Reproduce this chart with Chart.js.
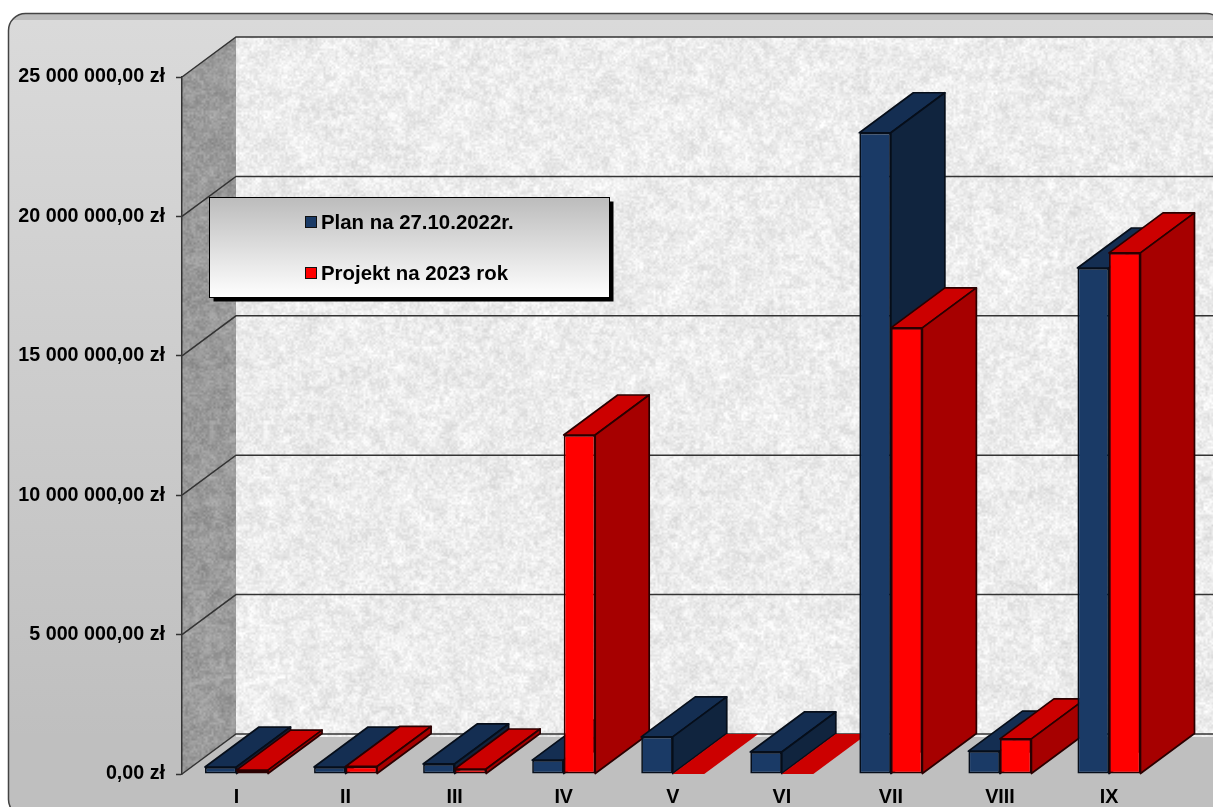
<!DOCTYPE html>
<html>
<head>
<meta charset="utf-8">
<title>Plan i projekt</title>
<script src="https://cdn.jsdelivr.net/npm/chart.js@4"></script>
<style>
    html, body { margin: 0; padding: 0; background: #fff; overflow: hidden; }
    canvas { display: block; }
</style>
</head>
<body>
<canvas id="chart" width="1213" height="807"></canvas>
<script>
const categories = ['I', 'II', 'III', 'IV', 'V', 'VI', 'VII', 'VIII', 'IX'];
const planValues = [250000, 250000, 360000, 500000, 1330000, 790000, 23000000, 820000, 18150000];
const projektValues = [140000, 270000, 180000, 12160000, 0, 0, 16000000, 1260000, 18690000];
const yTicks = ['0,00 zł', '5 000 000,00 zł', '10 000 000,00 zł', '15 000 000,00 zł', '20 000 000,00 zł', '25 000 000,00 zł'];
const seriesNames = ['Plan na 27.10.2022r.', 'Projekt na 2023 rok'];

const DX = 54, DY = 40;
const tickFont = { family: '"Liberation Sans"', size: 19.7, weight: 'bold' };

// mottled stone texture for the walls, hash noise so it stays the same every run
function hash(x, y) {
    const s = Math.sin(x * 127.1 + y * 311.7) * 43758.5453;
    return s - Math.floor(s);
}
function blot(x, y, size) {
    const fx = x / size, fy = y / size;
    const ix = Math.floor(fx), iy = Math.floor(fy);
    const tx = fx - ix, ty = fy - iy;
    const a = hash(ix, iy) * (1 - tx) + hash(ix + 1, iy) * tx;
    const b = hash(ix, iy + 1) * (1 - tx) + hash(ix + 1, iy + 1) * tx;
    return a * (1 - ty) + b * ty;
}
function stone(w, h, base, range) {
    const c = document.createElement('canvas');
    c.width = w; c.height = h;
    const g = c.getContext('2d');
    const img = g.createImageData(w, h);
    for (let y = 0; y < h; y++) {
        for (let x = 0; x < w; x++) {
            const n = blot(x, y, 2) * 0.45 + blot(x + 50, y + 20, 5) * 0.35 + blot(x + 9, y + 70, 14) * 0.2;
            const v = base + (n - 0.5) * range;
            const i = (x + y * w) * 4;
            img.data[i] = img.data[i + 1] = img.data[i + 2] = v;
            img.data[i + 3] = 255;
        }
    }
    g.putImageData(img, 0, 0);
    return c;
}
const backStone = stone(990, 700, 236, 52);
const sideStone = stone(54, 740, 154, 58);

function poly(ctx, pts, fill, stroke) {
    ctx.beginPath();
    pts.forEach((p, i) => i ? ctx.lineTo(p[0], p[1]) : ctx.moveTo(p[0], p[1]));
    ctx.closePath();
    ctx.fillStyle = fill;
    ctx.fill();
    if (stroke) {
        ctx.strokeStyle = stroke;
        ctx.lineWidth = 1.7;
        ctx.lineJoin = 'round';
        ctx.stroke();
    }
}

const walls = {
    id: 'walls',
    beforeDraw(chart) {
        const ctx = chart.ctx, a = chart.chartArea, y = chart.scales.y;
        const wr = chart.width + 10;
        ctx.save();

        // outer frame
        ctx.beginPath();
        ctx.roundRect(8.5, 13.5, 1215, 803, 17);
        const bg = ctx.createLinearGradient(0, 20, 0, 740);
        bg.addColorStop(0, '#dadada');
        bg.addColorStop(1, '#bfbfbf');
        ctx.fillStyle = bg;
        ctx.fill();
        ctx.save();
        ctx.clip();
        ctx.fillStyle = '#bdbdbd';
        ctx.fillRect(8, 13, 1220, 7);
        ctx.fillStyle = '#bfbfbf';
        ctx.fillRect(8, a.bottom - DY, 1220, 100);
        ctx.restore();
        ctx.strokeStyle = '#444';
        ctx.lineWidth = 1.5;
        ctx.stroke();

        // back wall
        const backX = a.left + DX;
        ctx.drawImage(backStone, backX, a.top - DY);

        // left wall
        ctx.save();
        ctx.beginPath();
        ctx.moveTo(a.left, a.top);
        ctx.lineTo(backX, a.top - DY);
        ctx.lineTo(backX, a.bottom - DY);
        ctx.lineTo(a.left, a.bottom);
        ctx.closePath();
        ctx.clip();
        ctx.drawImage(sideStone, a.left, a.top - DY);
        ctx.restore();

        // grid lines run along the left wall and the back wall
        ctx.strokeStyle = '#333';
        ctx.lineWidth = 1.5;
        y.ticks.forEach(t => {
            const py = y.getPixelForValue(t.value);
            ctx.beginPath();
            ctx.moveTo(a.left, py);
            ctx.lineTo(backX, py - DY);
            ctx.lineTo(wr, py - DY);
            ctx.stroke();
        });
        ctx.restore();
    }
};

const faces = [
    { top: '#142e52', side: '#10243e' },
    { top: '#cc0000', side: '#a60000' }
];

const bars3d = {
    id: 'bars3d',
    // bars are drawn category by category, so the next group can cover the previous one
    beforeDatasetDraw() {
        return false;
    },
    afterDatasetsDraw(chart) {
        const ctx = chart.ctx;
        ctx.save();
        categories.forEach((c, i) => {
            chart.data.datasets.forEach((d, n) => {
                const el = chart.getDatasetMeta(n).data[i];
                const l = el.x - el.width / 2, r = el.x + el.width / 2;
                const line = n ? '#2a0000' : '#060e1a';
                poly(ctx, [[l, el.y], [l + DX, el.y - DY], [r + DX, el.y - DY], [r, el.y]], faces[n].top, d.data[i] ? line : null);
                if (d.data[i]) {
                    poly(ctx, [[r, el.y], [r + DX, el.y - DY], [r + DX, el.base - DY], [r, el.base]], faces[n].side, line);
                }
                el.draw(ctx);
            });
        });
        ctx.restore();
    }
};

const legendBox = {
    id: 'legendBox',
    afterDraw(chart) {
        const ctx = chart.ctx;
        const x = 209.5, y = 197.5, w = 400, h = 100;
        ctx.save();
        ctx.fillStyle = '#000';
        ctx.fillRect(x + 4, y + 4, w, h);
        const g = ctx.createLinearGradient(0, y, 0, y + h);
        g.addColorStop(0, '#bcbcbc');
        g.addColorStop(1, '#ffffff');
        ctx.fillStyle = g;
        ctx.fillRect(x, y, w, h);
        ctx.strokeStyle = '#000';
        ctx.lineWidth = 1;
        ctx.strokeRect(x, y, w, h);
        ctx.font = 'bold 20.4px "Liberation Sans", Arial, sans-serif';
        ctx.textBaseline = 'middle';
        seriesNames.forEach((name, n) => {
            const ly = 222 + n * 51;
            ctx.fillStyle = chart.data.datasets[n].backgroundColor;
            ctx.fillRect(305.5, ly - 5.5, 11, 11);
            ctx.strokeStyle = '#111';
            ctx.lineWidth = 1;
            ctx.strokeRect(305.5, ly - 5.5, 11, 11);
            ctx.fillStyle = '#000';
            ctx.fillText(name, 321, ly + 1);
        });
        ctx.restore();
    }
};

new Chart(document.getElementById('chart'), {
    type: 'bar',
    data: {
        labels: categories,
        datasets: [{
            label: seriesNames[0],
            data: planValues,
            backgroundColor: '#1a3a66',
            borderColor: '#060e1a'
        }, {
            label: seriesNames[1],
            data: projektValues,
            backgroundColor: '#ff0000',
            borderColor: '#2a0000'
        }]
    },
    plugins: [walls, bars3d, legendBox],
    options: {
        responsive: false,
        animation: false,
        layout: { padding: { left: 0, top: 77, right: 49.5, bottom: 0 } },
        datasets: {
            bar: {
                categoryPercentage: 63 / 109,
                barPercentage: 1,
                borderWidth: 1.7,
                borderSkipped: false
            }
        },
        plugins: {
            legend: { display: false },
            tooltip: { enabled: false }
        },
        scales: {
            x: {
                grid: { display: false },
                border: { display: false },
                ticks: { color: '#000', font: tickFont, padding: 4, maxRotation: 0 },
                afterFit(s) { s.height = 33; }
            },
            y: {
                min: 0,
                max: 25000000,
                grid: { drawOnChartArea: false, tickLength: 6, tickColor: '#333', tickWidth: 1.5 },
                border: { color: '#333', width: 1.5 },
                ticks: {
                    stepSize: 5000000,
                    color: '#000',
                    padding: 11,
                    font: tickFont,
                    callback: (v, i) => yTicks[i]
                },
                afterFit(s) { s.width = 182; }
            }
        }
    }
});
</script>
</body>
</html>
